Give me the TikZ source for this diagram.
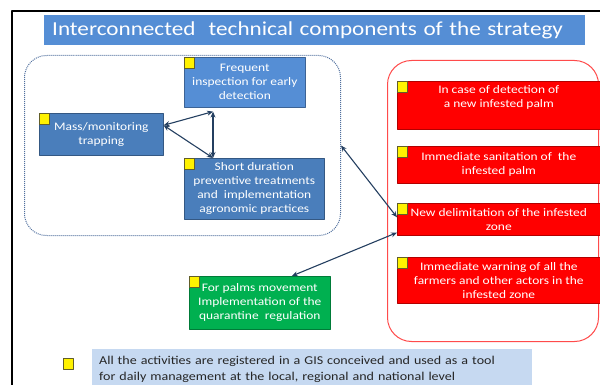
\documentclass[tikz,border=0pt]{standalone}
\usepackage{fontspec}
\setmainfont{Carlito}[FakeStretch=1.17]
\usetikzlibrary{arrows.meta}

\definecolor{titleblue}{HTML}{558ED5}
\definecolor{lightblue}{HTML}{558ED5}
\definecolor{darkblue}{HTML}{4A7EBB}
\definecolor{boxred}{HTML}{FF0000}
\definecolor{boxgreen}{HTML}{00B050}
\definecolor{gisblue}{HTML}{C6D9F1}
\definecolor{navy}{HTML}{243F60}
\definecolor{dotblue}{HTML}{51709E}
\definecolor{frame}{HTML}{FF4B4B}

\begin{document}
\begin{tikzpicture}[x=1pt, y=-1pt, line join=round,
    >={Stealth[length=6pt, width=5pt]},
    box/.style={draw=#1!70!black, line width=0.6pt, fill=#1, text=white, align=center,
        inner sep=0pt, anchor=north west, font=\fontsize{11.5}{14}\selectfont},
    boxtext/.style={text=white, align=center, inner sep=0pt, font=\fontsize{11.5}{14}\selectfont},
    tag/.style={draw=olive!60!black, line width=0.4pt, fill=yellow, minimum width=10pt,
        minimum height=11pt, inner sep=0pt, anchor=north west},
    link/.style={<->, draw=navy, line width=1.1pt}]
    \useasboundingbox (0,0) rectangle (600,385);
    \clip (0,0) rectangle (600,385);
    \draw[line width=1.5pt] (12,11) rectangle (640,420);

    % title bar
    \node[fill=titleblue, text=white, anchor=north west, minimum height=30pt, text width=525pt,
        inner xsep=8pt, align=left, font=\fontsize{19.8}{22}\selectfont]
        (title) at (44,15) {Interconnected\ \ technical components of the strategy};

    % grouping frames
    \node[draw=dotblue, densely dotted, line width=1pt, rounded corners=22pt, minimum width=316pt,
        minimum height=180pt, anchor=north west] (tech) at (24,55) {};
    \node[draw=frame, line width=1pt, rounded corners=24pt, minimum width=211pt,
        minimum height=281pt, anchor=north west] (resp) at (387,60) {};

    % technical components
    \node[box=lightblue, minimum width=121pt, minimum height=50pt] (freq) at (184,57)
        {Frequent\\inspection for early\\detection};
    \node[box=darkblue, minimum width=124pt, minimum height=42pt] (mass) at (39,113)
        {Mass/monitoring\\trapping};
    \node[box=darkblue, minimum width=140pt, minimum height=61pt] (short) at (184,158)
        {Short duration\\preventive treatments\\and\ \ implementation\\agronomic practices};

    % response to a new detection
    \node[box=boxred, minimum width=203pt, minimum height=48pt] (det) at (397,81) {};
    \node[boxtext, anchor=north] (dettxt) at ([yshift=-4pt]det.north)
        {In case of detection of\\a new infested palm};
    \node[box=boxred, minimum width=203pt, minimum height=37pt] (sanit) at (397,146)
        {Immediate sanitation of\ \ the\\infested palm};
    \node[box=boxred, minimum width=203pt, minimum height=32pt] (delim) at (397,203)
        {New delimitation of the infested\\zone};
    \node[box=boxred, minimum width=203pt, minimum height=46pt] (warn) at (397,257)
        {Immediate warning of all the\\farmers and other actors in the\\infested zone};

    % quarantine
    \node[box=boxgreen, minimum width=141pt, minimum height=53pt] (quar) at (189,276)
        {For palms movement\\Implementation of the\\quarantine\ \ regulation};

    % GIS
    \node[fill=gisblue, anchor=north west, minimum height=40pt, text width=426pt, inner xsep=7pt,
        inner ysep=0pt, align=left, text=black!85, font=\fontsize{12}{16.5}\selectfont] (gis) at (92,349)
        {All the activities are registered in a GIS conceived and used as a tool\\for daily management at the local, regional and national level};
    \node[tag] (gistag) at (63,358) {};

    \foreach \n in {freq, mass, short, det, sanit, delim, warn, quar}
        \node[tag] (\n-tag) at (\n.north west) {};

    % connectors
    \draw[link] ([yshift=9pt]mass.east) -- ([xshift=29pt, yshift=-4pt]freq.south west);
    \draw[link] ([yshift=9pt]mass.east) -- ([xshift=29pt]short.north west);
    \draw[link] ([xshift=29pt, yshift=-4pt]freq.south west) -- ([xshift=29pt]short.north west);
    \draw[link] (tech.east) -- ([yshift=2pt]delim.west);
    \draw[link] ([xshift=32pt]quar.north) -- ([yshift=3pt]delim.south west);
\end{tikzpicture}
\end{document}
